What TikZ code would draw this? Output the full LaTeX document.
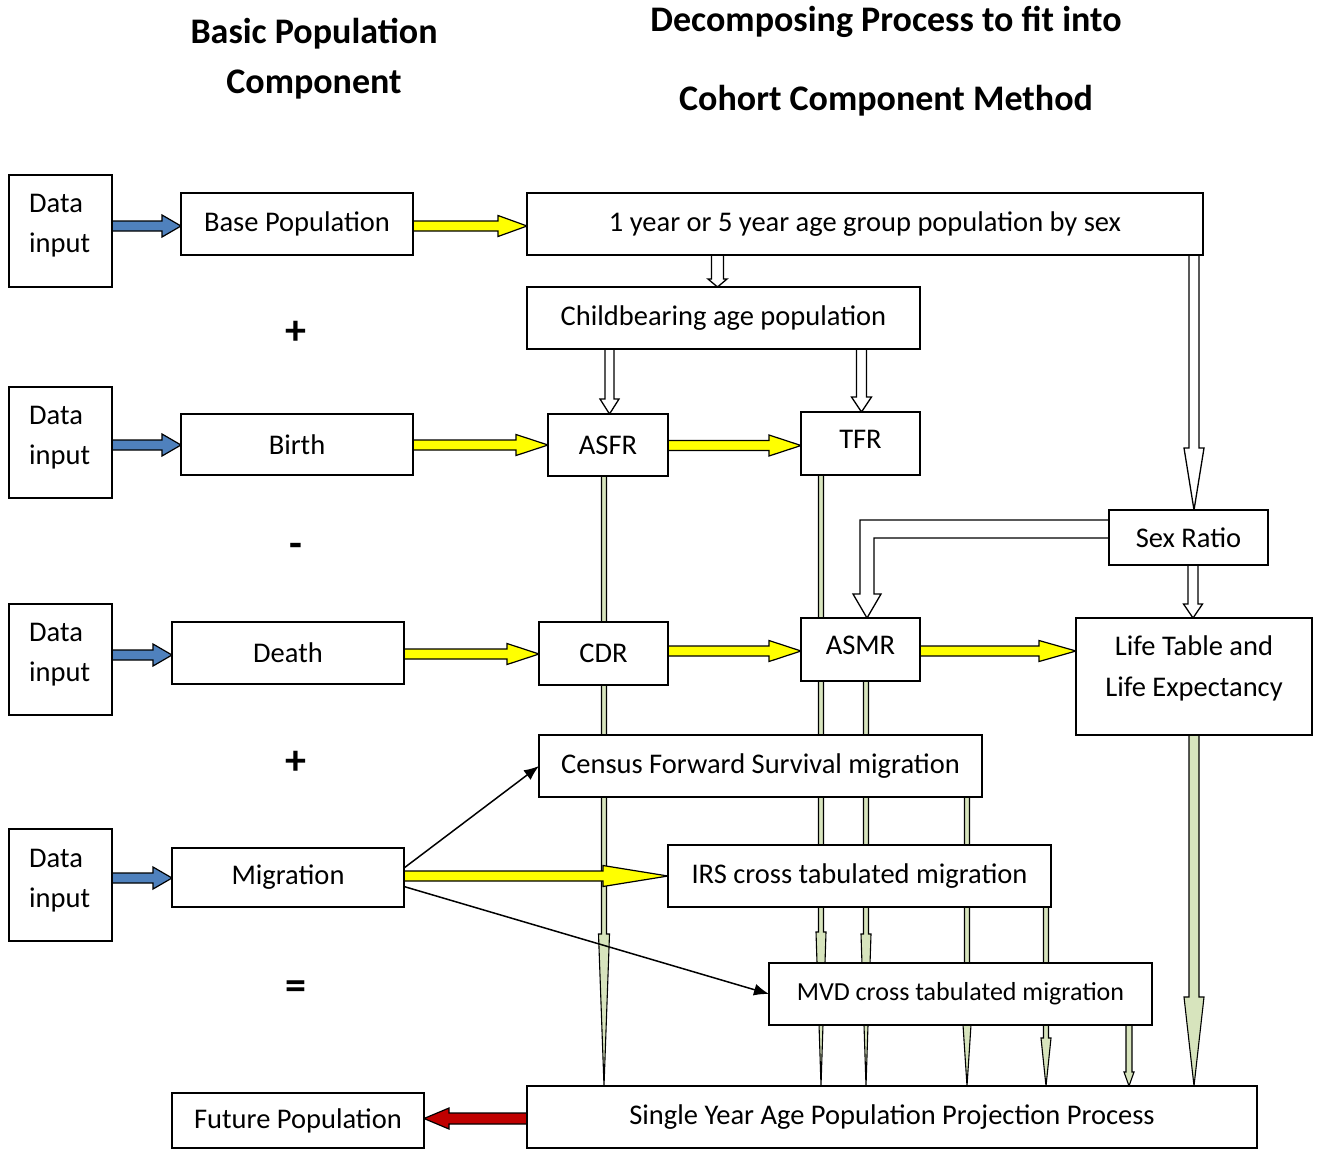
\documentclass[tikz,border=0pt]{standalone}
\usepackage{fontspec}
\setmainfont{Carlito}
\usetikzlibrary{arrows.meta,calc}
\definecolor{bblue}{HTML}{4F81BD}
\definecolor{byellow}{HTML}{FFFF00}
\definecolor{bred}{HTML}{C00000}
\definecolor{bgreen}{HTML}{D7E4BD}
\pgfdeclarelayer{bg}
\pgfsetlayers{bg,main}
% horizontal block arrow: style, y, from, to, shaft half, head half, head length
\newcommand\harr[7]{%
 \path[#1] let \p1=(#3), \p2=(#4), \n1={sign(\x2-\x1)} in
 (\x1,{-#2pt+#5pt}) -- ({\x2-\n1*#7pt},{-#2pt+#5pt}) -- ({\x2-\n1*#7pt},{-#2pt+#6pt})
 -- (\x2,-#2pt) -- ({\x2-\n1*#7pt},{-#2pt-#6pt}) -- ({\x2-\n1*#7pt},{-#2pt-#5pt})
 -- (\x1,{-#2pt-#5pt}) -- cycle;}
% vertical (downward) block arrow: style, x, from, to, shaft half, head half, head length
\newcommand\varr[7]{%
 \path[#1] let \p1=(#3), \p2=(#4) in
 ({#2pt-#5pt},\y1) -- ({#2pt-#5pt},{\y2+#7pt}) -- ({#2pt-#6pt},{\y2+#7pt})
 -- (#2pt,\y2) -- ({#2pt+#6pt},{\y2+#7pt}) -- ({#2pt+#5pt},{\y2+#7pt})
 -- ({#2pt+#5pt},\y1) -- cycle;}
\newcommand\bx[7][]{\node[box,#1, minimum width={(#5-#3)*1pt}, minimum height={(#6-#4)*1pt}] (#2) at ({(#3+#5)/2},{(#4+#6)/2}) {#7};}
\begin{document}
\begin{tikzpicture}[x=1pt,y=-1pt,
  box/.style={draw=black, line width=1.8pt, fill=white, inner sep=0pt, outer sep=0pt,
    align=center, font=\fontsize{28.5}{40}\selectfont},
  title/.style={font=\fontsize{36}{40}\selectfont\bfseries, align=center},
  oper/.style={font=\fontsize{42}{42}\selectfont\bfseries},
  txt/.style={font=\fontsize{28.5}{41}\selectfont, align=center},
  datatxt/.style={font=\fontsize{28.5}{40}\selectfont, align=left, anchor=west, inner sep=0pt},
  bluearr/.style={draw=black, line width=1.2pt, fill=bblue},
  yelarr/.style={draw=black, line width=1.2pt, fill=byellow},
  redarr/.style={draw=black, line width=1.2pt, fill=bred},
  grnarr/.style={draw=black, line width=1.1pt, fill=bgreen},
  hollow/.style={draw=black, line width=1.3pt, fill=white},
  thin/.style={draw=black, line width=1.5pt, -{Latex[length=15pt,width=12pt]}}
]
\useasboundingbox (0,0) rectangle (1319,1149);

% titles
\node[title] (t1) at (314,34) {Basic Population};
\node[title] (t2) at (314,85) {Component};
\node[title] (t3) at (886,22) {Decomposing Process to fit into};
\node[title] (t4) at (886,101) {Cohort Component Method};

% operators
\node[oper] (op1) at (296,333) {+};
\node[oper] (op2) at (296,550) {-};
\node[oper] (op3) at (296,763) {+};
\node[oper] (op4) at (296,990) {=};

% boxes
\bx{d1}{9}{175}{112}{287}{}
\bx{d2}{9}{387}{112}{498}{}
\bx{d3}{9}{604}{112}{715}{}
\bx{d4}{9}{829}{112}{941}{}
\node[datatxt] (d1t) at (29,226) {Data\\input};
\node[datatxt] (d2t) at (29,438) {Data\\input};
\node[datatxt] (d3t) at (29,655) {Data\\input};
\node[datatxt] (d4t) at (29,881) {Data\\input};
\bx{base}{181}{193}{413}{255}{Base Population}
\bx{birth}{181}{414}{413}{475}{Birth}
\bx{death}{172}{622}{404}{684}{Death}
\bx{mig}{172}{848}{404}{907}{Migration}
\bx{future}{172}{1093}{424}{1148}{Future Population\rule[-4pt]{0pt}{1pt}}
\bx{yr}{527}{193}{1203}{255}{1 year or 5 year age group population by sex}
\bx{child}{527}{287}{920}{349}{Childbearing age population}
\bx{asfr}{548}{414}{668}{476}{ASFR}
\bx{tfr}{801}{412}{920}{475}{TFR\rule[-8pt]{0pt}{1pt}}
\bx{sex}{1109}{510}{1268}{565}{Sex Ratio}
\bx{cdr}{539}{622}{668}{685}{CDR}
\bx{asmr}{801}{618}{920}{681}{ASMR\rule[-8pt]{0pt}{1pt}}
\bx{life}{1076}{618}{1312}{735}{}
\node[txt] (lifetxt) at (1194,668) {Life Table and\\Life Expectancy};
\bx{census}{539}{735}{982}{797}{Census Forward Survival migration}
\bx{irs}{668}{845}{1051}{907}{IRS cross tabulated migration}
\bx[font=\fontsize{26}{30}\selectfont]{mvd}{769}{963}{1152}{1025}{MVD cross tabulated migration}
\bx{single}{527}{1086}{1257}{1148}{Single Year Age Population Projection Process\rule[-4pt]{0pt}{1pt}}

\begin{pgfonlayer}{bg}
% green arrows into the projection process
\varr{grnarr}{604}{asfr.south}{single.north}{2.5}{5.5}{152}
\varr{grnarr}{821}{tfr.south}{single.north}{2.5}{5}{154}
\varr{grnarr}{866}{asmr.south}{single.north}{2.5}{5}{152}
\varr{grnarr}{967}{census.south}{single.north}{2.5}{5.5}{84}
\varr{grnarr}{1046}{irs.south}{single.north}{2.5}{5}{48}
\varr{grnarr}{1129}{mvd.south}{single.north}{3}{5}{14}
\varr{grnarr}{1194}{life.south}{single.north}{5}{10}{89}

% hollow arrows
\varr{hollow}{717.5}{yr.south}{child.north}{6}{9.5}{8}
\varr{hollow}{609.5}{child.south}{asfr.north}{4.5}{9.5}{15}
\varr{hollow}{861.5}{child.south}{tfr.north}{5}{10}{15}
\varr{hollow}{1194}{yr.south}{sex.north}{5}{10}{62}
\varr{hollow}{1193}{sex.south}{life.north}{5}{9.5}{14}
\path[hollow] let \p1=(sex.west), \p2=(asmr.north -| 867,0) in
 (\x1,-520pt) -- (860pt,-520pt) -- (860pt,{\y2+24pt}) -- (853pt,{\y2+24pt}) -- (\x2,\y2)
 -- (881pt,{\y2+24pt}) -- (874pt,{\y2+24pt}) -- (874pt,-538pt) -- (\x1,-538pt) -- cycle;

% blue arrows
\harr{bluearr}{226}{d1.east}{base.west}{5}{11}{19}
\harr{bluearr}{445}{d2.east}{birth.west}{5}{11}{19}
\harr{bluearr}{655}{d3.east}{death.west}{5}{11}{19}
\harr{bluearr}{878}{d4.east}{mig.west}{5}{11}{19}

% yellow arrows
\harr{yelarr}{226}{base.east}{yr.west}{5}{10.5}{29}
\harr{yelarr}{445}{birth.east}{asfr.west}{5}{10.5}{32}
\harr{yelarr}{445.5}{asfr.east}{tfr.west}{5}{10.5}{32}
\harr{yelarr}{654}{death.east}{cdr.west}{5}{10.5}{32}
\harr{yelarr}{651}{cdr.east}{asmr.west}{5}{10.5}{32}
\harr{yelarr}{651}{asmr.east}{life.west}{5}{10.5}{37}
\harr{yelarr}{876}{mig.east}{irs.west}{5}{10.5}{65}

% red arrow
\harr{redarr}{1118.5}{single.west}{future.east}{5.5}{10.5}{25}

% thin black arrows
\draw[thin] ($(mig.east)+(0,-9.5)$) -- (census.west);
\draw[thin] ($(mig.east)+(0,9)$) -- (mvd.west);
\end{pgfonlayer}
\end{tikzpicture}
\end{document}
